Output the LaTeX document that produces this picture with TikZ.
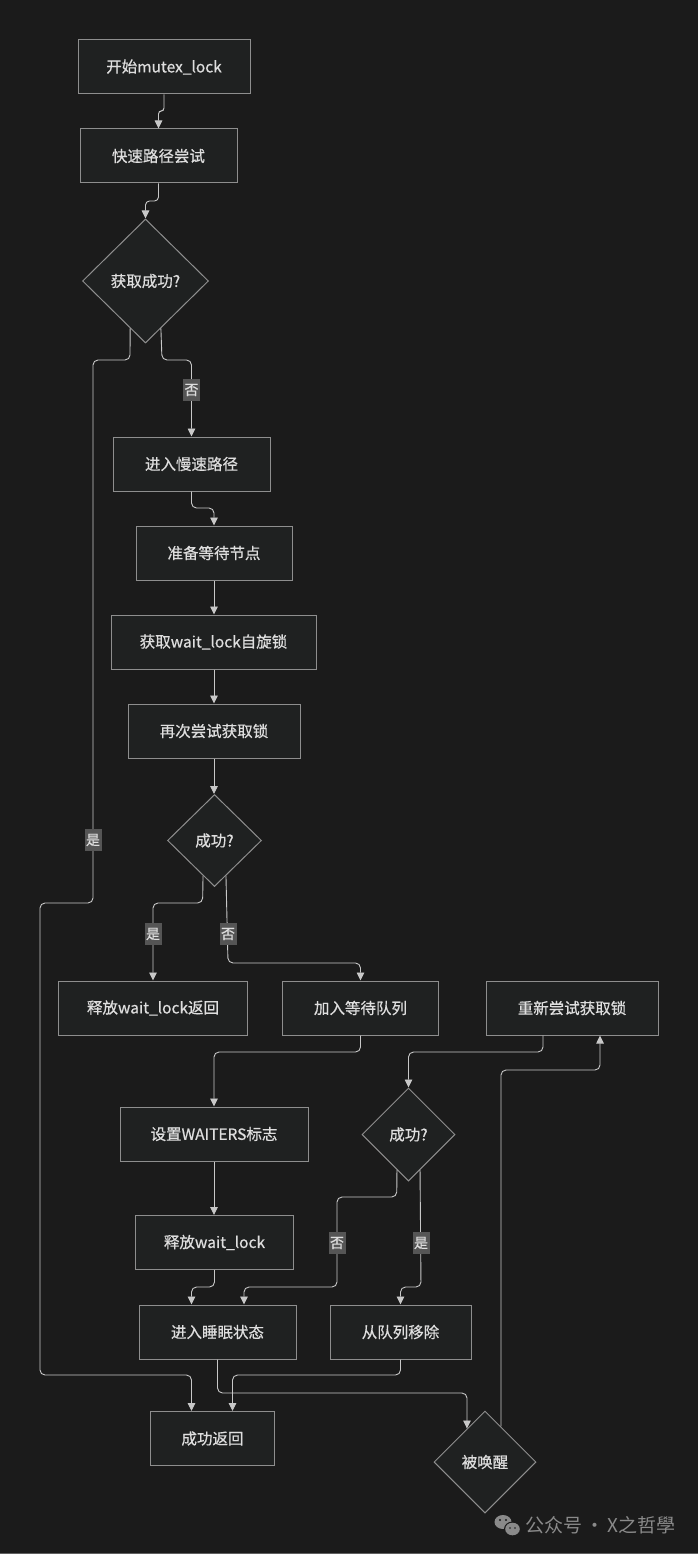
\documentclass[tikz,border=0pt]{standalone}
\usepackage{fontspec}
\setmainfont{Noto Sans CJK SC}
\newfontfamily\boxfont[FakeBold=0.6]{Noto Sans CJK SC}
\usetikzlibrary{shapes.geometric,arrows.meta,calc}
\definecolor{bg}{HTML}{1B1B1B}
\definecolor{nf}{HTML}{1F2121}
\definecolor{bd}{HTML}{8E8E8E}
\definecolor{tx}{HTML}{DEDEDE}
\definecolor{ln}{HTML}{C8C8C8}
\definecolor{lb}{HTML}{555555}
\definecolor{wm}{HTML}{8A8A8A}
\begin{document}
\begin{tikzpicture}[x=1pt,y=-1pt,
  box/.style={rectangle,draw=bd,fill=nf,line width=1pt,inner sep=0pt,text=tx,font=\boxfont\fontsize{15.5}{18}\selectfont,minimum height=54pt},
  dia/.style={diamond,draw=bd,fill=nf,line width=1pt,inner sep=0pt,text=tx,font=\boxfont\fontsize{15.5}{18}\selectfont},
  edge/.style={draw=ln,line width=0.9pt,rounded corners=5pt,-{Triangle[length=8pt,width=7.5pt]}},
  lbl/.style={rectangle,fill=lb,text=tx,inner xsep=1.5pt,inner ysep=5pt,font=\boxfont\fontsize{14}{16}\selectfont}]
\fill[bg] (0,0) rectangle (698,1554);
\fill[bd!60!bg] (0,1552.5) rectangle (698,1554);
\useasboundingbox (0,0) rectangle (698,1554);

% nodes
\node[box,minimum width=172pt] (start) at (164,67) {开始mutex\_lock};
\node[box,minimum width=157pt] (fast) at (158.5,156) {快速路径尝试};
\node[dia,minimum width=126pt,minimum height=124pt] (d1) at (145.5,281) {获取成功?};
\node[box,minimum width=157pt] (slow) at (191.5,464) {进入慢速路径};
\node[box,minimum width=156pt] (prep) at (214,553) {准备等待节点};
\node[box,minimum width=205pt] (getwl) at (213.5,642) {获取wait\_lock自旋锁};
\node[box,minimum width=172pt] (retry) at (214,731) {再次尝试获取锁};
\node[dia,minimum width=94pt,minimum height=92pt] (d2) at (214.5,840.5) {成功?};
\node[box,minimum width=189pt] (rel) at (153,1008) {释放wait\_lock返回};
\node[box,minimum width=156pt] (join) at (360.5,1008) {加入等待队列};
\node[box,minimum width=172pt] (retry2) at (572,1008) {重新尝试获取锁};
\node[box,minimum width=188pt] (setw) at (214,1134) {设置WAITERS标志};
\node[dia,minimum width=93pt,minimum height=93pt] (d3) at (408.5,1134.5) {成功?};
\node[box,minimum width=158pt] (relwl) at (214.5,1242.5) {释放wait\_lock};
\node[box,minimum width=157pt] (sleep) at (217.5,1332) {进入睡眠状态};
\node[box,minimum width=141pt] (remove) at (400.5,1332) {从队列移除};
\node[box,minimum width=124pt] (ret) at (212.5,1438.5) {成功返回};
\node[dia,minimum width=102pt,minimum height=102pt] (woke) at (485,1462) {被唤醒};

% edges
\draw[edge,rounded corners=3pt] (start.south) -- (164,111) -- (158.5,111) -- (fast.north);
\draw[edge,rounded corners=4pt] (fast.south) -- (158.5,201) -- (145.5,201) -- (d1.north);
\draw[edge] (d1.252) -- (130,360) -- (93,360) -- (93,903) -- (40,903) -- (40,1375) -- (191.5,1375) -- ([xshift=-21pt]ret.north);
\draw[edge] (d1.288) -- (162,360) -- (191.5,360) -- (slow.north);
\draw[edge] (slow.south) -- (191.5,508) -- (214,508) -- (prep.north);
\draw[edge] (prep.south) -- (prep.south |- getwl.north);
\draw[edge] (retry.north |- getwl.south) -- (retry.north);
\draw[edge] (retry.south) -- (retry.south |- d2.north);
\draw[edge] (d2.252) -- (202.6,903) -- (153,903) -- (rel.north);
\draw[edge] (d2.288) -- (228,963) -- (360.5,963) -- (join.north);
\draw[edge] (join.south) -- (360.5,1052) -- (214,1052) -- (setw.north);
\draw[edge] ([xshift=-29pt]retry2.south) -- (543,1052) -- (408.5,1052) -- (d3.north);
\draw[edge] (setw.south) -- (setw.south |- relwl.north);
\draw[edge] (relwl.south) -- (214.5,1287) -- (191.5,1287) -- ([xshift=-26pt]sleep.north);
\draw[edge] (d3.252) -- (396.7,1197) -- (337,1197) -- (337,1287) -- (244,1287) -- ([xshift=26.5pt]sleep.north);
\draw[edge] (d3.288) -- (421,1287) -- (400.5,1287) -- (remove.north);
\draw[edge] (sleep.south) -- (217.5,1393) -- (467,1393) -- ($(woke.north)!0.35!(woke.west)$);
\draw[edge] (remove.south) -- (400.5,1375) -- (232.5,1375) -- ([xshift=20pt]ret.north);
\draw[edge] ($(woke.north)!0.31!(woke.east)$) -- (501,1070) -- (600,1070) -- ([xshift=28pt]retry2.south);

% edge labels
\node[lbl] (l1) at (93,840) {是};
\node[lbl] (l2) at (191.5,390) {否};
\node[lbl] (l3) at (153,934) {是};
\node[lbl] (l4) at (228,934) {否};
\node[lbl] (l5) at (337,1243) {否};
\node[lbl] (l6) at (421,1243) {是};

% watermark
\fill[wm] (503,1522) ellipse [x radius=8.5pt, y radius=7pt];
\fill[bg] (512.5,1529) ellipse [x radius=8.5pt, y radius=7.5pt];
\fill[wm] (512.5,1529) ellipse [x radius=7.3pt, y radius=6.3pt];
\fill[bg] (500,1520) circle (1.1pt) (506,1520) circle (1.1pt) (510,1528) circle (0.9pt) (515,1528) circle (0.9pt);
\node[text=wm,font=\fontsize{19}{21}\selectfont,anchor=west,inner sep=0pt] (wmt) at (525,1525) {公众号\,·\,X之哲學};
\end{tikzpicture}
\end{document}
